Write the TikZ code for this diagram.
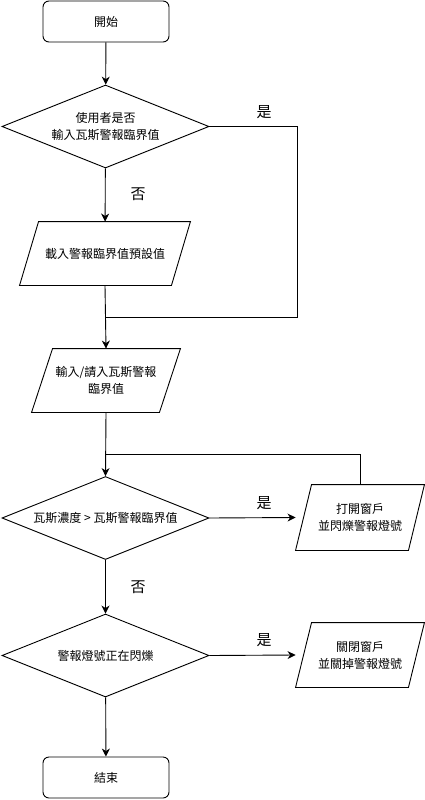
\documentclass[tikz,border=0pt]{standalone}
\usepackage{fontspec}
\setmainfont{Noto Sans CJK TC}
\usetikzlibrary{shapes.geometric,arrows.meta}
\begin{document}
\begin{tikzpicture}[x=1pt,y=-1pt,
  every node/.style={font=\fontsize{12}{17}\selectfont, align=center, inner sep=0pt},
  term/.style={draw, rounded corners=6pt, minimum width=126pt, minimum height=41pt},
  decision/.style={draw, diamond, aspect=2.5, minimum width=207pt, minimum height=83pt},
  io/.style={rectangle},
  lbl/.style={font=\fontsize{15}{15}\selectfont},
  arr/.style={-{Stealth[length=8pt,width=8pt,inset=2.5pt]}},
  line width=0.9pt]
\useasboundingbox (0,0) rectangle (424,800);
\newcommand\paraoutline[2]{%
  \draw (#1.south west) -- ([xshift=-#2pt]#1.south east) -- (#1.north east)
        -- ([xshift=#2pt]#1.north west) -- cycle;}

\node[term] (start) at (106,21.5) {開始};
\node[decision] (d1) at (105.5,126.5) {使用者是否\\輸入瓦斯警報臨界值};
\node[io, minimum width=170pt, minimum height=63pt] (p1) at (105,253.5) {載入警報臨界值預設值};
\node[io, minimum width=148pt, minimum height=63pt] (p2) at (106,380.5) {輸入/請入瓦斯警報\\臨界值};
\node[decision] (d3) at (105.5,518) {瓦斯濃度 > 瓦斯警報臨界值};
\node[io, minimum width=128pt, minimum height=65pt] (p3) at (360,517.5) {打開窗戶\\並閃爍警報燈號};
\node[decision] (d4) at (105.5,655.5) {警報燈號正在閃爍};
\node[io, minimum width=128pt, minimum height=64pt] (p4) at (360,655) {關閉窗戶\\並關掉警報燈號};
\node[term] (end) at (106,777.5) {結束};
\paraoutline{p1}{19}
\paraoutline{p2}{21}
\paraoutline{p3}{16}
\paraoutline{p4}{16}

\node[lbl] (y1) at (264,112) {是};
\node[lbl] (n1) at (138,194) {否};
\node[lbl] (y3) at (264,503) {是};
\node[lbl] (n3) at (138,587) {否};
\node[lbl] (y4) at (264,640) {是};

\coordinate (j1) at (106,317);
\coordinate (j2) at (106,454);

\draw[arr] (start) -- (d1);
\draw (d1.east) -| (297,317) -- (j1);
\draw[arr] (d1) -- (p1);
\draw[arr] (p1.south) -- (p2.north);
\draw[arr] (p2.south) -- (d3.north);
\draw (p3.north) |- (j2);
\draw[arr] (d3.east) -- (p3.west);
\draw[arr] (d3) -- (d4);
\draw[arr] (d4.east) -- (p4.west);
\draw[arr] (d4) -- (end);
\end{tikzpicture}
\end{document}
